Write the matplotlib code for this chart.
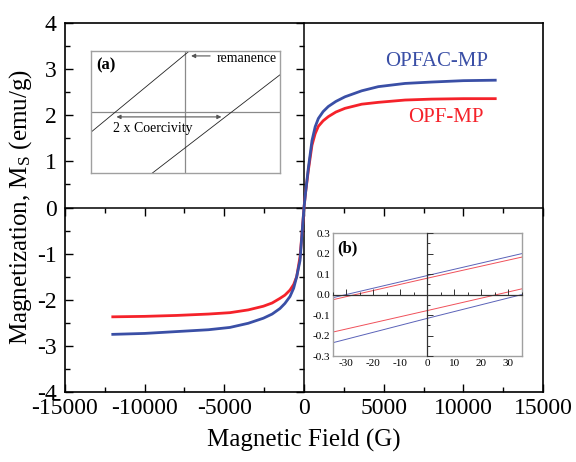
import matplotlib
matplotlib.use("Agg")
import matplotlib.pyplot as plt
from matplotlib.ticker import MultipleLocator, FormatStrFormatter

plt.rcParams['font.family'] = ['Liberation Serif', 'DejaVu Serif']
plt.rcParams['axes.unicode_minus'] = False
plt.rcParams['mathtext.fontset'] = 'custom'
plt.rcParams['mathtext.rm'] = 'Liberation Serif'
plt.rcParams['mathtext.it'] = 'Liberation Serif:italic'

# ---------------- data ----------------
field = [-12000, -10000, -8000, -6000, -4650, -3500, -2550, -2000, -1510, -1200, -880,
         -650, -460, -250, -100, 0, 100, 270, 500, 700, 900, 1200, 1525, 2000, 2570,
         3620, 4660, 6340, 8000, 10000, 12000]
opfac_mp = [-2.75, -2.73, -2.69, -2.65, -2.60, -2.51, -2.40, -2.31, -2.19, -2.08, -1.93,
            -1.75, -1.50, -1.15, -0.45, 0.0, 0.33, 0.85, 1.45, 1.75, 1.93, 2.08, 2.19,
            2.30, 2.40, 2.53, 2.62, 2.69, 2.72, 2.75, 2.76]
opf_mp = [-2.37, -2.36, -2.34, -2.31, -2.28, -2.22, -2.14, -2.07, -1.97, -1.90, -1.79,
          -1.67, -1.50, -1.07, -0.45, 0.0, 0.33, 0.80, 1.35, 1.60, 1.76, 1.88, 1.97,
          2.07, 2.15, 2.24, 2.28, 2.33, 2.35, 2.36, 2.36]

# inset (b): low-field loop branches
field_b = [-35, 0, 35]
opfac_up = [-0.015, 0.093, 0.200]
opfac_dn = [-0.235, -0.116, 0.000]
opf_up = [-0.025, 0.080, 0.183]
opf_dn = [-0.183, -0.078, 0.028]

# inset (a): schematic loop lines
sch1_x = [-1.0, 0.04]
sch1_y = [-0.33, 1.0]
sch2_x = [-0.35, 1.0]
sch2_y = [-1.0, 0.61]

blue = '#3a4fa6'
red = '#f5222a'

fig = plt.figure(figsize=(5.76, 4.62), dpi=100)
rect = [0.1128, 0.1515, 0.830, 0.7987]

# center (zero) axes, drawn underneath
axc = fig.add_axes(rect)
axc.set_xlim(-15000, 15000)
axc.set_ylim(-4, 4)
axc.spines['top'].set_visible(False)
axc.spines['right'].set_visible(False)
axc.spines['left'].set_position(('data', 0))
axc.spines['bottom'].set_position(('data', 0))
for s in ('left', 'bottom'):
    axc.spines[s].set_linewidth(1.1)
axc.xaxis.set_major_locator(MultipleLocator(5000))
axc.xaxis.set_minor_locator(MultipleLocator(2500))
axc.yaxis.set_major_locator(MultipleLocator(1))
axc.yaxis.set_minor_locator(MultipleLocator(0.5))
axc.tick_params(which='both', direction='out', labelleft=False, labelbottom=False, width=1.0)
axc.tick_params(which='major', length=6)
axc.tick_params(which='minor', length=3.5)

# main axes
ax = fig.add_axes(rect)
ax.patch.set_visible(False)
ax.plot(field, opf_mp, color=red, lw=2.0, solid_joinstyle='round')
ax.plot(field, opfac_mp, color=blue, lw=2.0, solid_joinstyle='round')
ax.set_xlim(-15000, 15000)
ax.set_ylim(-4, 4)
ax.xaxis.set_major_locator(MultipleLocator(5000))
ax.xaxis.set_minor_locator(MultipleLocator(2500))
ax.yaxis.set_major_locator(MultipleLocator(1))
ax.yaxis.set_minor_locator(MultipleLocator(0.5))
ax.tick_params(which='both', direction='in', top=False, right=False, width=1.0, labelsize=17)
ax.tick_params(which='major', length=6)
ax.tick_params(which='minor', length=3.5)
ax.tick_params(axis='x', pad=4.5)
ax.tick_params(axis='y', pad=6)
for s in ax.spines.values():
    s.set_linewidth(1.2)
ax.set_xlabel('Magnetic Field (G)', fontsize=18, labelpad=7)
ax.set_ylabel(r'Magnetization, M$_\mathrm{S}$ (emu/g)', fontsize=18, labelpad=2)
ax.text(8350, 3.16, 'OPFAC-MP', color=blue, fontsize=15, ha='center', va='center')
ax.text(8900, 1.96, 'OPF-MP', color=red, fontsize=15, ha='center', va='center')

# ---------------- inset (a) ----------------
axa = fig.add_axes([0.158, 0.6255, 0.328, 0.264])
axa.set_xlim(-1, 1)
axa.set_ylim(-1, 1)
axa.set_xticks([])
axa.set_yticks([])
for s in axa.spines.values():
    s.set_color('#a0a0a0')
    s.set_linewidth(1.0)
axa.axhline(0, color='#8a8a8a', lw=0.9)
axa.axvline(0, color='#8a8a8a', lw=0.9)
axa.plot(sch1_x, sch1_y, color='#222222', lw=0.6)
axa.plot(sch2_x, sch2_y, color='#222222', lw=0.6)
axa.annotate('', xy=(0.03, 0.92), xytext=(0.29, 0.92),
             arrowprops=dict(arrowstyle='-|>', color='#555555', lw=0.8, mutation_scale=6))
axa.text(0.33, 0.87, 'remanence', fontsize=10, ha='left', va='center')
axa.annotate('', xy=(-0.76, -0.08), xytext=(0.41, -0.08),
             arrowprops=dict(arrowstyle='<|-|>', color='#555555', lw=0.8, mutation_scale=6))
axa.text(-0.77, -0.27, '2 x Coercivity', fontsize=10, ha='left', va='center')
axa.text(-0.94, 0.77, '(a)', fontsize=12, fontweight='bold', ha='left', va='center')

# ---------------- inset (b) ----------------
brect = [0.578, 0.2294, 0.328, 0.266]
axb = fig.add_axes(brect)
axb.set_xlim(-35, 35)
axb.set_ylim(-0.3, 0.3)
axb.xaxis.set_major_locator(MultipleLocator(10))
axb.yaxis.set_major_locator(MultipleLocator(0.1))
axb.yaxis.set_major_formatter(FormatStrFormatter('%.1f'))
axb.tick_params(length=0, labelsize=8, pad=2)
for s in axb.spines.values():
    s.set_color('#a0a0a0')
    s.set_linewidth(1.0)
axb.plot(field_b, opfac_up, color='#5a62b8', lw=0.7)
axb.plot(field_b, opfac_dn, color='#5a62b8', lw=0.7)
axb.plot(field_b, opf_up, color='#f0505a', lw=0.7)
axb.plot(field_b, opf_dn, color='#f0505a', lw=0.7)
axb.text(-33.5, 0.225, '(b)', fontsize=12, fontweight='bold', ha='left', va='center')

axbc = fig.add_axes(brect)
axbc.patch.set_visible(False)
axbc.set_xlim(-35, 35)
axbc.set_ylim(-0.3, 0.3)
axbc.spines['top'].set_visible(False)
axbc.spines['right'].set_visible(False)
axbc.spines['left'].set_position(('data', 0))
axbc.spines['bottom'].set_position(('data', 0))
for s in ('left', 'bottom'):
    axbc.spines[s].set_linewidth(0.9)
    axbc.spines[s].set_color('#333333')
axbc.xaxis.set_major_locator(MultipleLocator(10))
axbc.xaxis.set_minor_locator(MultipleLocator(5))
axbc.yaxis.set_major_locator(MultipleLocator(0.1))
axbc.yaxis.set_minor_locator(MultipleLocator(0.05))
axbc.tick_params(which='both', direction='in', labelleft=False, labelbottom=False,
                 width=0.7, color='#333333')
axbc.tick_params(which='major', length=4)
axbc.tick_params(which='minor', length=2)

fig.savefig('out.png', dpi=100)
